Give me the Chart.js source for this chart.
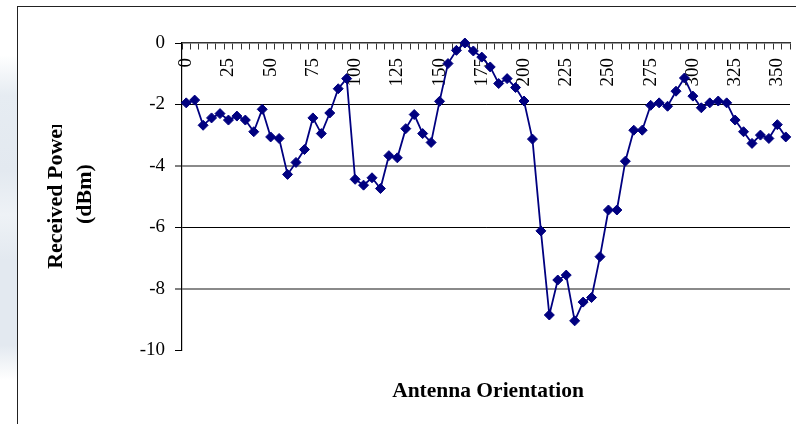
<!DOCTYPE html>
<html>
<head>
<meta charset="utf-8">
<script src="https://cdn.jsdelivr.net/npm/chart.js@4.4.1/dist/chart.umd.min.js"></script>
<style>
  html, body { margin: 0; padding: 0; background: #ffffff; }
  #wrap { position: relative; width: 796px; height: 424px; overflow: hidden; background: #ffffff; }
  #strip { position: absolute; left: 0; top: 0; width: 19px; height: 424px;
    background: linear-gradient(to bottom, #ffffff 0px, #ffffff 55px, #e6ecf2 95px, #e3e9f0 170px, #eef2f6 215px, #e3e9f0 260px, #e3e9f0 345px, #ffffff 380px); }
  #frame { position: absolute; left: 17px; top: 6px; width: 820px; height: 440px;
    border-left: 1.5px solid #222; border-top: 1.5px solid #222; background: #ffffff; }
  #chart { position: absolute; left: 0; top: 0; }
  .ttl { position: absolute; font-family: 'Liberation Serif', 'Times New Roman', serif; font-weight: bold; color: #000; white-space: nowrap; }
  #xtitle { left: 338px; width: 300px; top: 378px; font-size: 21.5px; line-height: 24px; text-align: center; }
  #yclip { position: absolute; left: 0; top: 125px; width: 130px; height: 250px; overflow: hidden; }
  #ytitle { left: -41px; top: 40px; width: 220px; height: 58px; font-size: 22px; line-height: 29px; text-align: center; transform: rotate(-90deg); }
</style>
</head>
<body>
<div id="wrap">
  <div id="strip"></div>
  <div id="frame"></div>
  <canvas id="chart" width="796" height="424"></canvas>
  <div id="yclip"><div id="ytitle" class="ttl">Received Power<br>(dBm)</div></div>
  <div id="xtitle" class="ttl">Antenna Orientation</div>
</div>
<script>
const angles = ['0','5','10','15','20','25','30','35','40','45','50','55','60','65','70','75','80','85','90','95',
  '100','105','110','115','120','125','130','135','140','145','150','155','160','165','170','175','180','185','190','195',
  '200','205','210','215','220','225','230','235','240','245','250','255','260','265','270','275','280','285','290','295',
  '300','305','310','315','320','325','330','335','340','345','350','355'];
const power = [-1.95,-1.86,-2.68,-2.44,-2.30,-2.51,-2.38,-2.51,-2.89,-2.16,
  -3.06,-3.11,-4.28,-3.89,-3.47,-2.44,-2.95,-2.28,-1.49,-1.16,
  -4.44,-4.63,-4.39,-4.74,-3.67,-3.74,-2.79,-2.33,-2.95,-3.24,
  -1.90,-0.67,-0.24,0.00,-0.26,-0.46,-0.78,-1.32,-1.16,-1.45,
  -1.89,-3.13,-6.12,-8.86,-7.72,-7.56,-9.05,-8.44,-8.29,-6.96,
  -5.44,-5.44,-3.85,-2.84,-2.84,-2.03,-1.95,-2.06,-1.57,-1.14,
  -1.73,-2.11,-1.95,-1.89,-1.95,-2.51,-2.89,-3.27,-3.00,-3.11,
  -2.66,-3.06];
const shownAngles = ['0','25','50','75','100','125','150','175','200','225','250','275','300','325','350'];
const yMin = -10, yMax = 0, yStep = 2;

const serif = "'Liberation Serif', 'Times New Roman', serif";
const darkGrid = [-2, -6];
const greyGrid = [-4, -8];

new Chart(document.getElementById('chart'), {
  type: 'line',
  data: {
    labels: angles,
    datasets: [{
      data: power,
      borderColor: '#000080',
      backgroundColor: '#000080',
      borderWidth: 1.8,
      pointStyle: 'rectRot',
      pointRadius: 5,
      pointHoverRadius: 5,
      pointBorderWidth: 1,
      pointBorderColor: '#000080',
      pointBackgroundColor: '#000080',
      tension: 0,
      clip: false
    }]
  },
  options: {
    responsive: false,
    animation: false,
    layout: { padding: { left: 0, top: 43, right: 3, bottom: 74 } },
    plugins: { legend: { display: false }, tooltip: { enabled: false }, title: { display: false } },
    scales: {
      x: {
        type: 'category',
        position: { y: 0 },
        offset: true,
        afterFit: s => { s.height = 0; s.paddingLeft = 0; s.paddingRight = 0; s.paddingTop = 0; s.paddingBottom = 0; },
        grid: { offset: true, drawOnChartArea: false, drawTicks: true, tickLength: 6, tickColor: '#333', tickWidth: 1 },
        border: { display: true, color: '#333', width: 1.5 },
        ticks: {
          autoSkip: false, maxRotation: 90, minRotation: 90, padding: 9,
          color: '#000', font: { family: serif, size: 19 },
          callback: function (v, i) { const l = angles[i]; return shownAngles.includes(l) ? l : ''; }
        }
      },
      y: {
        min: yMin, max: yMax,
        afterFit: s => { s.width = 182; s.paddingTop = 0; s.paddingBottom = 0; },
        grid: {
          color: c => darkGrid.includes(c.tick.value) ? '#000000' : (greyGrid.includes(c.tick.value) ? '#8a8a8a' : 'rgba(0,0,0,0)'),
          lineWidth: c => greyGrid.includes(c.tick.value) ? 2 : 1,
          tickColor: '#000', tickWidth: 1, tickLength: 7, drawTicks: true
        },
        border: { display: true, color: '#000', width: 1.2 },
        ticks: { stepSize: yStep, padding: 10, color: '#000', font: { family: serif, size: 19 } }
      }
    }
  }
});
</script>
</body>
</html>
